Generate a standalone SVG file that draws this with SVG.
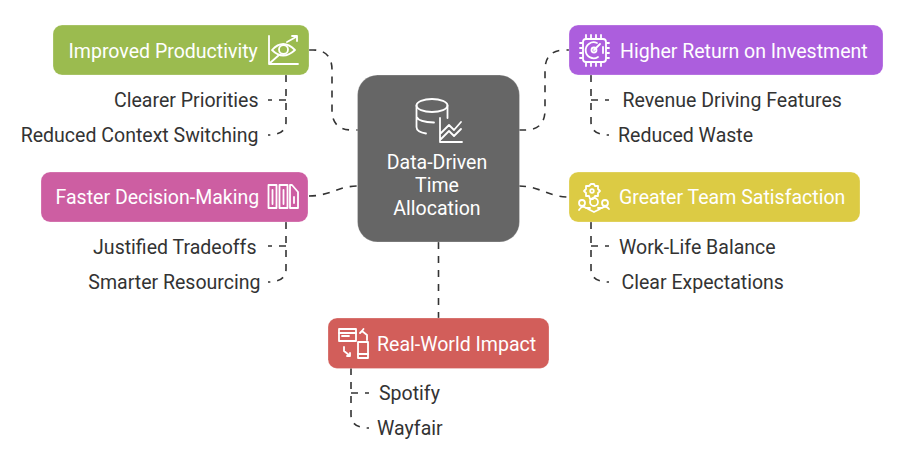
<svg xmlns="http://www.w3.org/2000/svg" width="901" height="462" viewBox="0 0 901 462">
<style>
text{font-family:Roboto,"Liberation Sans",sans-serif;font-size:19.55px}
.w{fill:#fff}
.d{fill:#333}
.c{text-anchor:middle}
.e{text-anchor:end}
.n{stroke-width:1;stroke-opacity:.25;stroke:#fff}
.i{fill:none;stroke:#fff;stroke-width:1.8;stroke-linecap:round;stroke-linejoin:round}
.l{fill:none;stroke:#333;stroke-width:1.6;stroke-dasharray:7 7}
</style>
<rect width="901" height="462" fill="#fff"/>
<g id="connectors" class="l">
<path d="M309 50H313Q332 50 332 70V110Q332 130 352 130H358"/>
<path d="M519 130H525Q545 130 545 110V70Q545 50 565 50H569"/>
<path d="M309 196C330 196 338 186 358 186"/>
<path d="M519 186C540 186 548 197 569 197"/>
<path d="M438.500 242V318"/>
<path d="M286 75V122Q286 135 268 135"/>
<path d="M286 100H268"/>
<path d="M591 75V122Q591 135 609 135"/>
<path d="M591 100H609"/>
<path d="M286 222V269Q286 282 268 282"/>
<path d="M286 246H268"/>
<path d="M591 222V269Q591 282 609 282"/>
<path d="M591 246H609"/>
<path d="M351 368V415Q351 428 369 428"/>
<path d="M351 393H369"/>
</g>
<g id="center">
<rect class="n" x="357.500" y="75" width="162" height="167" rx="20" fill="#666"/>
<g class="i">
<ellipse cx="432" cy="105.500" rx="15.500" ry="6.500"/>
<path d="M416.500 105.500V127Q416.500 132 426 133.500M447.500 105.500V118M416.500 117Q419 122 434 122.500"/>
<path d="M440 118V142H462M441 133L449 125L454 130L461 122M441 139L449 131L454 136L461 129"/>
</g>
<text class="w c" x="437" y="169">Data-Driven</text>
<text class="w c" x="437" y="192">Time</text>
<text class="w c" x="437" y="215">Allocation</text>
</g>
<g id="productivity">
<rect class="n" x="53" y="25" width="256" height="50" rx="9" fill="#9bbb4f"/>
<g class="i">
<path d="M269 36V64H298M270 63L279 55M287 42L296 37M292 36H297V41"/>
<path d="M272 50Q283 38 295 50Q283 61 272 50Z"/>
<circle cx="283.500" cy="49.500" r="4.500"/>
</g>
<text class="w" x="68.500" y="57.500">Improved Productivity</text>
<text class="d e" x="258.500" y="106.500">Clearer Priorities</text>
<text class="d e" x="258.500" y="142">Reduced Context Switching</text>
</g>
<g id="roi">
<rect class="n" x="569" y="25" width="314" height="50" rx="9" fill="#ac5edd"/>
<g class="i">
<rect x="583" y="39" width="23" height="23" rx="3"/>
<path d="M586 35V38M591 35V38M596 35V38M601 35V38M586 63V66M591 63V66M596 63V66M601 63V66M580 43H582M580 48H582M580 53H582M580 58H582M607 43H609M607 48H609M607 53H609M607 58H609"/>
<path d="M597 43A8 8 0 1 0 598 57M594 50L600 44M603 47V53"/>
<circle cx="594" cy="50" r="2.500"/>
</g>
<text class="w" x="620" y="57.500">Higher Return on Investment</text>
<text class="d" x="622.500" y="106.500">Revenue Driving Features</text>
<text class="d" x="618" y="142">Reduced Waste</text>
</g>
<g id="decision">
<rect class="n" x="41" y="172" width="267" height="50" rx="9" fill="#cd5ea2"/>
<g class="i">
<path d="M268.500 185H276.500V208H268.500ZM279.500 185H287.500V208H279.500ZM290 185H292L298 192V208H290Z"/>
<path d="M272.500 190V204M283.500 190V204M294 197V203"/>
</g>
<text class="w" x="55.500" y="203.500">Faster Decision-Making</text>
<text class="d e" x="256.500" y="253.500">Justified Tradeoffs</text>
<text class="d e" x="260.500" y="288.500">Smarter Resourcing</text>
</g>
<g id="satisfaction">
<rect class="n" x="569" y="172" width="291" height="50" rx="9" fill="#dccb44"/>
<g class="i">
<path d="M591 184L594 184L595 186L598 186L598 189L600 191L598 193L598 196L595 196L593 199L590 199L589 196L586 196L586 193L584 191L586 189L586 186L589 186Z"/>
<circle cx="592" cy="191" r="1.800"/>
<circle cx="594" cy="202" r="4"/>
<circle cx="582" cy="203" r="3"/>
<circle cx="605" cy="203" r="3"/>
<path d="M579 210Q582 205 586 208L590 208M609 209Q606 205 602 208L598 208M588 209L594 212L600 209"/>
</g>
<text class="w" x="619" y="203.500">Greater Team Satisfaction</text>
<text class="d" x="619" y="253.500">Work-Life Balance</text>
<text class="d" x="621.500" y="288.500">Clear Expectations</text>
</g>
<g id="impact">
<rect class="n" x="328" y="318" width="221" height="50.500" rx="9" fill="#d25e5a"/>
<g class="i">
<rect x="339" y="329" width="17" height="12"/>
<path d="M339 333H356M342 336H349"/>
<rect x="358" y="342" width="10" height="16"/>
<path d="M358 354H368M362 331L367 335V340M360 333L362 331L363.500 329M344 347V351L349 355M347 356H350V353"/>
</g>
<text class="w" x="377" y="350.500">Real-World Impact</text>
<text class="d" x="379" y="400">Spotify</text>
<text class="d" x="377" y="435">Wayfair</text>
</g>
</svg>
